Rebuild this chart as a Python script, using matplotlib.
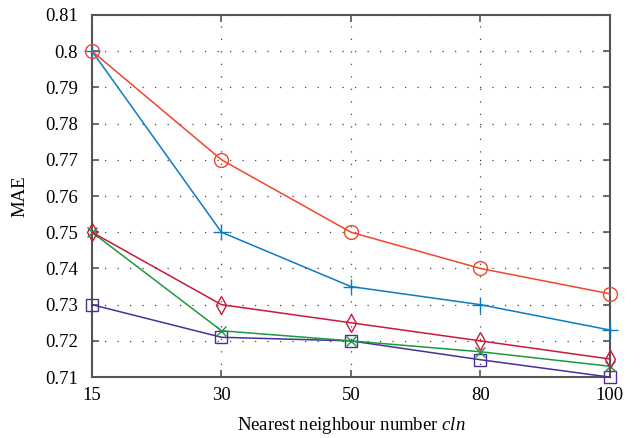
import numpy as np
import matplotlib.pyplot as plt

plt.rcParams['font.family'] = ['Liberation Serif', 'DejaVu Serif']
plt.rcParams['mathtext.fontset'] = 'custom'
plt.rcParams['mathtext.it'] = 'Liberation Serif:italic'
plt.rcParams['mathtext.rm'] = 'Liberation Serif'

# x categories (equally spaced on the axis)
cln = ['15', '30', '50', '80', '100']

# MAE values per method
red_circle = [0.800, 0.770, 0.750, 0.740, 0.733]
blue_plus = [0.800, 0.750, 0.735, 0.730, 0.723]
crimson_diamond = [0.750, 0.730, 0.725, 0.720, 0.715]
green_x = [0.750, 0.7228, 0.720, 0.717, 0.713]
purple_square = [0.730, 0.721, 0.720, 0.7148, 0.710]

x = np.arange(len(cln))

fig = plt.figure(figsize=(6.41, 4.38), dpi=100)
ax = fig.add_axes([0.1435, 0.139, 0.808, 0.827])

ax.plot(x, purple_square, color='#4a2f9e', marker='s', markersize=8,
        markerfacecolor='none', linewidth=1.1, clip_on=False, zorder=3)
ax.plot(x, green_x, color='#1a9a3e', marker='x', markersize=7, linewidth=1.1,
        clip_on=False, zorder=3)
ax.plot(x, crimson_diamond, color='#c8183c', marker='d', markersize=9,
        markerfacecolor='none', linewidth=1.1, clip_on=False, zorder=3)
ax.plot(x, blue_plus, color='#0a7cc4', marker='+', markersize=11, linewidth=1.1,
        clip_on=False, zorder=3)
ax.plot(x, red_circle, color='#f2462a', marker='o', markersize=10,
        markerfacecolor='none', linewidth=1.1, clip_on=False, zorder=3)

ax.set_xlim(x[0], x[-1])
ax.set_ylim(0.71, 0.81)
ax.set_xticks(x)
ax.set_xticklabels(cln)
yt = np.round(np.arange(0.71, 0.8101, 0.01), 2)
ax.set_yticks(yt)
ax.set_yticklabels([('%.2f' % v).rstrip('0') for v in yt])

# sparse dotted grid like the original
ax.grid(True, linestyle=(0, (1, 9)), color='#444444', linewidth=0.9)
ax.tick_params(direction='in', top=True, right=True, labelsize=13.5,
               length=5, width=1.2, colors='#555555', labelcolor='black')
ax.tick_params(axis='y', pad=10)
ax.tick_params(axis='x', pad=7)
for s in ax.spines.values():
    s.set_color('#555555')
    s.set_linewidth(1.5)

ax.set_xlabel('Nearest neighbour number $\\mathit{cln}$', fontsize=13.5, labelpad=8)
ax.set_ylabel('MAE', fontsize=13.5, labelpad=12)

fig.savefig('out.png', dpi=100)
